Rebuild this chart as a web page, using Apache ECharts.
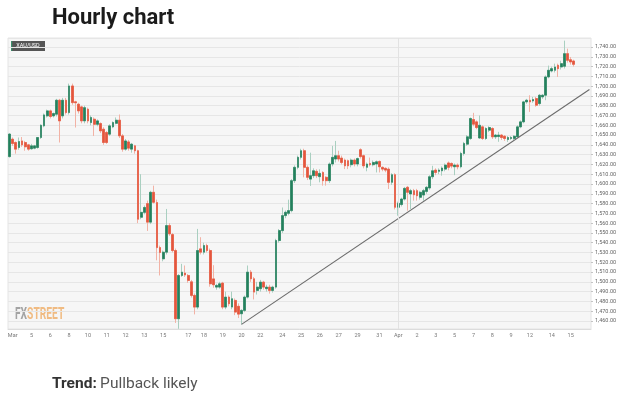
<!DOCTYPE html>
<html>
<head>
<meta charset="utf-8">
<script src="https://cdn.jsdelivr.net/npm/echarts@6/dist/echarts.min.js"></script>
<style>
  html, body { margin: 0; padding: 0; background: #fff; }
  #chart { width: 624px; height: 399px; }
</style>
</head>
<body>
<div id="chart"></div>
<script>
// XAU/USD candles, one row per bar: open, close, low, high
const candles = [
  [1628, 1651, 1627, 1652], [1645.8, 1641.4, 1639, 1647.5], [1642.4, 1635.6, 1631, 1643.5],
  [1637.3, 1643.4, 1635, 1647.5], [1644, 1640, 1638, 1648], [1642.4, 1638, 1634, 1644],
  [1640, 1635.6, 1634, 1641], [1636, 1639, 1635, 1641], [1636.6, 1639, 1635.5, 1640],
  [1637.3, 1647.5, 1636, 1648], [1647.5, 1660, 1646, 1661], [1659.4, 1670.6, 1658, 1672],
  [1669.6, 1674.7, 1668, 1676], [1674.7, 1669, 1667, 1676], [1669.6, 1672, 1668, 1673],
  [1671.3, 1685.6, 1669, 1687], [1685.6, 1664.5, 1642.4, 1687], [1669.6, 1685.6, 1667, 1688],
  [1685.6, 1673, 1671, 1688], [1673, 1700.2, 1671, 1702.6], [1700.2, 1683.2, 1681, 1702.6],
  [1684, 1683, 1657.7, 1685], [1681.5, 1674.7, 1672, 1683], [1678.8, 1664.5, 1662, 1680],
  [1664.5, 1678, 1662, 1680], [1676.4, 1664.5, 1662, 1678], [1662.8, 1668, 1660, 1670],
  [1666.2, 1661, 1649, 1668], [1661, 1664.5, 1659, 1666], [1661.8, 1654.3, 1652, 1663],
  [1656, 1642.4, 1640, 1658], [1652.6, 1642.4, 1641, 1654], [1650.9, 1659.4, 1649, 1661],
  [1658.4, 1662.8, 1657, 1664], [1662, 1665.2, 1661, 1668], [1665.2, 1649.2, 1647, 1671],
  [1649.2, 1635.6, 1633, 1651], [1635.6, 1644, 1634, 1646], [1643, 1636.6, 1634, 1645],
  [1635.6, 1640.7, 1632, 1642], [1639, 1634, 1631, 1640], [1634, 1564, 1560, 1635],
  [1566, 1571, 1564, 1610], [1571, 1576, 1569, 1578], [1580, 1561, 1552, 1583],
  [1561, 1591.5, 1559, 1593], [1591.5, 1581.3, 1580, 1598.3], [1581, 1535, 1522, 1584],
  [1535, 1530, 1506.5, 1537], [1523.5, 1530.3, 1521, 1532], [1530.3, 1557.5, 1528, 1574.5],
  [1557.5, 1549, 1547, 1560], [1548.3, 1532, 1530, 1550], [1532, 1462.3, 1458, 1534],
  [1462.3, 1506.5, 1452, 1508], [1506.5, 1509.9, 1505, 1518.4], [1509, 1507, 1505, 1516.7],
  [1506.5, 1501.4, 1499, 1508], [1500, 1486.1, 1484, 1502], [1486.1, 1474.2, 1466.7, 1488],
  [1474.2, 1532, 1472, 1554.1], [1533.7, 1530.3, 1528, 1545.6], [1530.3, 1537.1, 1528, 1540],
  [1537.1, 1532, 1530, 1539], [1532, 1498, 1495, 1534], [1503, 1497, 1494, 1517],
  [1494.6, 1496.3, 1492, 1498], [1494.6, 1498, 1493, 1500], [1498.7, 1474.2, 1472, 1500],
  [1474.2, 1484.4, 1472, 1490], [1484.4, 1477.6, 1475, 1486], [1474.2, 1482.7, 1472, 1490],
  [1481, 1469.1, 1466, 1483], [1475, 1467, 1463, 1478], [1467.4, 1470.8, 1456.5, 1472],
  [1470.8, 1484.4, 1469, 1486], [1484.4, 1509.9, 1483, 1516.7], [1509.9, 1503.1, 1500, 1512],
  [1503.1, 1489.5, 1482, 1505], [1491.2, 1494.6, 1487, 1500], [1493, 1499.7, 1490, 1502],
  [1499.7, 1494.6, 1492, 1501], [1493, 1494.6, 1490, 1497], [1494.6, 1491.2, 1488, 1497],
  [1491.2, 1494.6, 1489, 1496], [1494.6, 1542.2, 1493, 1544], [1542.2, 1552.4, 1540, 1554],
  [1552.4, 1567.7, 1550, 1576], [1567.7, 1571.1, 1565, 1573], [1570, 1572.8, 1568, 1584],
  [1572.8, 1603.4, 1571, 1605], [1603.4, 1617, 1601, 1619], [1617, 1627.2, 1615, 1629],
  [1627.2, 1634, 1625, 1636], [1634, 1617, 1606.8, 1636], [1617, 1606.8, 1604, 1619],
  [1605, 1608.5, 1598, 1632], [1608.5, 1613.5, 1606, 1616], [1612.9, 1608.5, 1606, 1615],
  [1607.5, 1610.8, 1601.7, 1615], [1611.8, 1603.4, 1598.3, 1613], [1606.8, 1603.4, 1598.3, 1608],
  [1603.4, 1620.4, 1601, 1622], [1620.4, 1627.2, 1618, 1639], [1625.5, 1628.9, 1622, 1644],
  [1628.9, 1625.5, 1623, 1634], [1626.5, 1622, 1620, 1629], [1624.4, 1618.6, 1615.2, 1626],
  [1623.8, 1618.6, 1615.2, 1625], [1619.7, 1624.4, 1617, 1626], [1624.4, 1620.4, 1618, 1626],
  [1620.4, 1626, 1618, 1627], [1635, 1628, 1626, 1636.5], [1628.9, 1618.6, 1616, 1630],
  [1617, 1620.4, 1613, 1622], [1621, 1619.7, 1618, 1627], [1619.7, 1622, 1618, 1624],
  [1620.4, 1622.7, 1611.8, 1624], [1623, 1617.6, 1611.8, 1624], [1617, 1615.2, 1613, 1618],
  [1616, 1614.2, 1612, 1617], [1615.2, 1601.7, 1594.9, 1617], [1601.7, 1609.5, 1599, 1611],
  [1609.5, 1576.2, 1574, 1611], [1576.2, 1580.2, 1567.6, 1582], [1579, 1584.6, 1577, 1586],
  [1584.6, 1595.5, 1583, 1597], [1596.6, 1591.5, 1572.7, 1598], [1589.8, 1593.2, 1574.4, 1595],
  [1593.2, 1589, 1583, 1595], [1593.2, 1588, 1583, 1595], [1586.4, 1591.5, 1584, 1593],
  [1588.7, 1593.2, 1583, 1595], [1592.4, 1596.6, 1590, 1598], [1595.9, 1607.4, 1594, 1609],
  [1607.4, 1613.5, 1605, 1618.6], [1614.2, 1611.8, 1609, 1616], [1612.9, 1614.2, 1610, 1616],
  [1613.5, 1616.3, 1608.5, 1618], [1615.2, 1619.3, 1613, 1621], [1621.5, 1617, 1614, 1623],
  [1621, 1618.3, 1616, 1622], [1617.6, 1619.3, 1609, 1621], [1619.3, 1617.6, 1615, 1621],
  [1617.6, 1631.2, 1616, 1633], [1631.2, 1641.4, 1629, 1643], [1640.7, 1648.2, 1639, 1650],
  [1646.5, 1666.9, 1645, 1668], [1665.9, 1661.1, 1659, 1672.7], [1663.5, 1657.7, 1656, 1665],
  [1647, 1660, 1646, 1670], [1658.4, 1646.5, 1645, 1660], [1646.5, 1656.7, 1645, 1658],
  [1655, 1657.7, 1653, 1659], [1656.7, 1648.2, 1646, 1658], [1648.2, 1650, 1646, 1651],
  [1648.5, 1650, 1643.1, 1653.3], [1650, 1647.5, 1645, 1651], [1648.8, 1646.5, 1644, 1650],
  [1645.5, 1647.5, 1643, 1649], [1646.5, 1647.5, 1645, 1649], [1646.5, 1648.8, 1645, 1650],
  [1648.2, 1658.4, 1647, 1660], [1658.4, 1663.5, 1657, 1665], [1663.5, 1683.9, 1662, 1685],
  [1683.9, 1685.6, 1682, 1687], [1685.6, 1683.9, 1673.7, 1690.7], [1684.9, 1686.3, 1683, 1689],
  [1687.3, 1680.5, 1679, 1689], [1682.2, 1690.7, 1680, 1692], [1689, 1690.7, 1687, 1692],
  [1690.7, 1709.4, 1685.6, 1711], [1709.4, 1716.2, 1708, 1721], [1715.5, 1717.9, 1714, 1720],
  [1716.2, 1719.6, 1714, 1723], [1721.3, 1717.9, 1709.4, 1723], [1719.6, 1723, 1717, 1726],
  [1720.3, 1733.2, 1718, 1746.5], [1733.2, 1726.4, 1724, 1738.3], [1727, 1724.7, 1722, 1729.8],
  [1725.7, 1722.3, 1720, 1727]
]

// date labels under the axis and the bar they sit under
const tickLabels = ['Mar', '5', '6', '8', '10', '11', '12', '13', '15', '17', '18', '19', '20', '22', '24',
  '25', '26', '27', '29', '31', 'Apr', '2', '3', '5', '7', '8', '9', '12', '14', '15']
const tickIndex = [1, 7, 13, 19, 25, 31, 37, 43, 49, 57, 62, 68, 74, 80, 87,
  93, 99, 105, 111, 118, 124, 130, 136, 142, 148, 154, 160, 166, 173, 179]

// support line drawn on the chart: [bar index, price]
const trendLine = [[74, 1456.5], [185, 1696.5]]

const emptySlots = 5 // blank space right of the last bar

const categories = []
for (let i = 0; i < candles.length + emptySlots; i++) {
  const k = tickIndex.indexOf(i)
  categories.push(k >= 0 ? tickLabels[k] : '')
}

// bodies only (no wick), drawn over the pale full candles
const bodies = candles.map(c => [c[0], c[1], Math.min(c[0], c[1]), Math.max(c[0], c[1])])

const chart = echarts.init(document.getElementById('chart'), null, { renderer: 'canvas' })

const fmtPrice = (v) => {
  if (Math.abs(v % 10) > 1e-6) return ''
  return v.toLocaleString('en-US', { minimumFractionDigits: 2, maximumFractionDigits: 2 })
}

chart.setOption({
  animation: false,
  backgroundColor: '#fff',
  grid: {
    left: 8, right: 33, top: 38, bottom: 70,
    show: true,
    backgroundColor: '#f6f6f6',
    borderColor: '#e4e4e4',
    borderWidth: 1
  },
  xAxis: {
    type: 'category',
    data: categories,
    boundaryGap: true,
    axisLine: { lineStyle: { color: '#dcdcdc' } },
    axisTick: {
      interval: (i, v) => v !== '',
      length: 2,
      lineStyle: { color: '#c4c4c4' }
    },
    axisLabel: {
      interval: (i, v) => v !== '',
      fontSize: 5.5,
      color: '#777',
      fontFamily: 'Roboto',
      margin: 4
    },
    splitLine: { show: false }
  },
  yAxis: {
    type: 'value',
    position: 'right',
    scale: true,
    min: 1451.8,
    max: 1749.2,
    minInterval: 10,
    maxInterval: 10,
    axisLine: { show: false },
    axisTick: { show: true, length: 2, lineStyle: { color: '#c4c4c4' } },
    axisLabel: {
      fontSize: 5.5,
      color: '#666',
      fontFamily: 'Roboto',
      margin: 4,
      showMinLabel: false,
      showMaxLabel: false,
      formatter: fmtPrice
    },
    splitLine: { lineStyle: { color: '#e6e6e6', width: 1 } }
  },
  series: [
    {
      // full candles in pale colours: this gives the light wicks
      type: 'candlestick',
      data: candles,
      barWidth: '72%',
      itemStyle: {
        color: '#a9cfc0',
        color0: '#f2b2a5',
        borderColor: '#a9cfc0',
        borderColor0: '#f2b2a5',
        borderWidth: 1
      },
      markLine: {
        silent: true,
        symbol: 'none',
        label: { show: false },
        lineStyle: { color: '#e2e2e2', width: 1, type: 'solid' },
        data: [{ xAxis: 'Apr' }]
      },
      z: 2
    },
    {
      type: 'candlestick',
      data: bodies,
      barWidth: '72%',
      itemStyle: {
        color: '#23805d',
        color0: '#e4553d',
        borderColor: '#23805d',
        borderColor0: '#e4553d',
        borderWidth: 0.6
      },
      z: 3
    },
    {
      type: 'line',
      data: trendLine,
      symbol: 'none',
      lineStyle: { color: '#6b6b6b', width: 1.1 },
      silent: true,
      z: 4
    }
  ],
  graphic: [
    {
      type: 'text',
      left: 52, top: 7,
      style: {
        text: 'Hourly chart',
        font: 'bold 22px Roboto',
        fill: '#1b1b1b'
      }
    },
    {
      type: 'group',
      left: 11, top: 41,
      children: [
        { type: 'rect', shape: { x: 0, y: 0, width: 34, height: 10 }, style: { fill: '#555' } },
        { type: 'rect', shape: { x: 0, y: 0, width: 1.2, height: 10 }, style: { fill: '#3c8f6c' } },
        {
          type: 'text', x: 17, y: 5,
          style: { text: 'XAU/USD', font: '5.5px Roboto', fill: '#fff', align: 'center', verticalAlign: 'middle' }
        }
      ]
    },
    {
      type: 'text',
      left: 15, top: 307,
      scaleX: 0.64,
      style: {
        text: '{a|FX}{b|STREET}',
        rich: {
          a: { font: 'bold 16px "Liberation Sans Narrow", Roboto', fill: '#a3a3a3' },
          b: { font: 'bold 16px "Liberation Sans Narrow", Roboto', fill: '#f0bb82' }
        }
      }
    },
    {
      type: 'text',
      left: 52, top: 376,
      style: {
        text: '{a|Trend:} {b|Pullback likely}',
        rich: {
          a: { font: 'bold 15.5px Roboto', fill: '#333' },
          b: { font: '15.5px Roboto', fill: '#555' }
        }
      }
    }
  ]
})
</script>
</body>
</html>
